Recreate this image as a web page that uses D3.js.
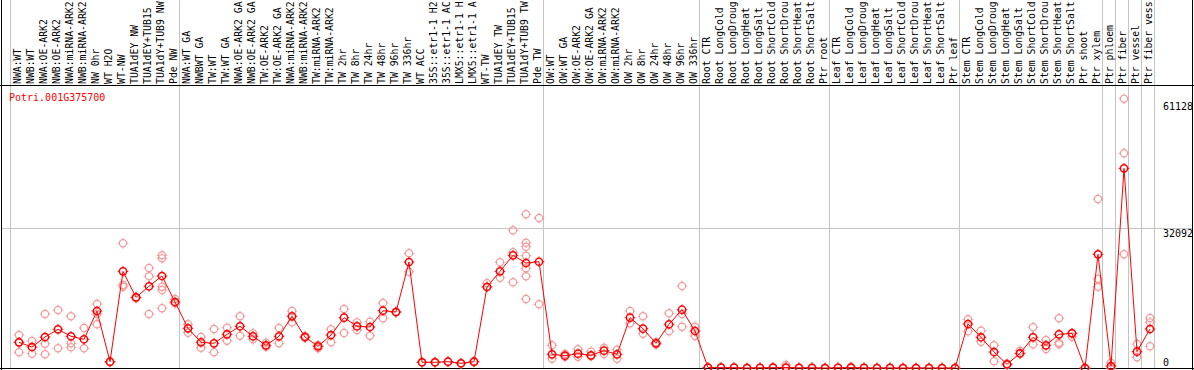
<!DOCTYPE html>
<html>
<head>
<meta charset="utf-8">
<script src="https://cdn.jsdelivr.net/npm/d3@7"></script>
<style>
  body { margin: 0; background: #fff; }
  svg { display: block; font-family: 'DejaVu Sans Mono', monospace; font-size: 10px; }
</style>
</head>
<body>
<svg width="1194" height="370"></svg>
<script>
var title = 'Potri.001G375700'

var categories = [
  'NWA:WT', 'NWB:WT', 'NWA:OE-ARK2', 'NWB:OE-ARK2', 'NWA:miRNA-ARK2', 'NWB:miRNA-ARK2', 'NW 0hr', 'WT H2O', 'WT-NW',
  'TUA1dEY NW', 'TUA1dEY+TUB15 NW', 'TUA1dY+TUB9 NW', 'Pde NW',
  'NWA:WT GA', 'NWBWT GA', 'TW:WT', 'TW:WT GA', 'NWA:OE-ARK2 GA', 'NWB:OE-ARK2 GA', 'TW:OE-ARK2', 'TW:OE-ARK2 GA',
  'NWA:miRNA-ARK2 GA', 'NWB:miRNA-ARK2 GA', 'TW:miRNA-ARK2', 'TW:miRNA-ARK2 GA', 'TW 2hr', 'TW 8hr', 'TW 24hr', 'TW 48hr',
  'TW 96hr', 'TW 336hr', 'WT ACC', '35S::etr1-1 H2O', '35S::etr1-1 ACC', 'LMX5::etr1-1 H2O', 'LMX5::etr1-1 ACC', 'WT-TW',
  'TUA1dEY TW', 'TUA1dEY+TUB15 TW', 'TUA1dY+TUB9 TW', 'Pde TW',
  'OW:WT', 'OW:WT GA', 'OW:OE-ARK2', 'OW:OE-ARK2 GA', 'OW:miRNA-ARK2', 'OW:miRNA-ARK2 GA', 'OW 2hr', 'OW 8hr', 'OW 24hr',
  'OW 48hr', 'OW 96hr', 'OW 336hr',
  'Root CTR', 'Root LongCold', 'Root LongDrought', 'Root LongHeat', 'Root LongSalt', 'Root ShortCold', 'Root ShortDrought',
  'Root ShortHeat', 'Root ShortSalt', 'Ptr root',
  'Leaf CTR', 'Leaf LongCold', 'Leaf LongDrought', 'Leaf LongHeat', 'Leaf LongSalt', 'Leaf ShortCold', 'Leaf ShortDrought',
  'Leaf ShortHeat', 'Leaf ShortSalt', 'Ptr leaf',
  'Stem CTR', 'Stem LongCold', 'Stem LongDrought', 'Stem LongHeat', 'Stem LongSalt', 'Stem ShortCold', 'Stem ShortDrought',
  'Stem ShortHeat', 'Stem ShortSalt', 'Ptr shoot', 'Ptr xylem',
  'Ptr phloem', 'Ptr fiber', 'Ptr vessel', 'Ptr fiber vessel'
]

// index of the first category of each block (last entry = end)
var groupStarts = [0, 13, 41, 53, 63, 73, 84, 85, 86, 87, 88]

var means = [
  5890, 4810, 7100, 8870, 7270, 6580, 13060, 1440, 22160, 16200, 18730, 21090, 15130,
  9100, 5890, 5660, 7720, 9560, 7270, 5200, 7270, 11850, 7100, 4970, 7560, 11530, 9560, 9400, 13130,
  12840, 24300, 1310, 1310, 1440, 1080, 1440, 18570, 22160, 25830, 24070, 24360,
  3140, 2820, 3280, 2910, 3970, 3140, 11530, 9010, 5660, 10020, 13360, 8480,
  100, 80, 70, 0, 60, 70, 120, 40, 50, 0,
  60, 90, 20, 0, 20, 0, 0, 0, 0, 0,
  10090, 7040, 3670, 850, 3370, 7040, 5200, 7720, 7950, 0, 26060,
  460, 45770, 3740, 8940
]

var reps = [
  [7560, 5890, 3600], [6190, 3280], [12380, 5570, 3140], [13290, 4520], [11850, 5660, 4740],
  [9170, 4520], [14670, 12380, 10020], [1440, 1300], [28580, 19020, 18630], [16200, 16000],
  [22920, 21020, 12380], [25830, 25140, 18630, 17880, 13680], [15820, 14830],
  [10020, 8090], [7100, 4650], [8940, 3600], [9240, 6260], [11850, 7400], [7950, 6580],
  [5800, 4880], [9170, 5660], [13060, 10470], [6950, 7330], [4520, 5270], [8870, 5890],
  [13520, 8020], [10470, 8710], [10610, 7400], [14900, 11390], [12900, 12720], [26290, 22070],
  [1380, 1260], [1260, 1380], [1490, 1400], [1030, 1100], [1600, 1300], [19410, 18630],
  [24230, 20700], [31560, 26520, 19640], [35230, 28720, 27800, 25740, 22850, 21020, 15820], [34380, 14600],
  [5200, 2130], [2590, 3210], [4290, 2590], [3740, 2680], [4650, 3210], [4190, 2130],
  [13060, 10250], [11850, 7860], [5890, 5390], [12540, 8410], [18790, 12380, 9470], [9470, 7330],
  [150, 50], [120, 40], [100, 40], [0, 0], [90, 30], [100, 40], [690, 0], [60, 20], [80, 20], [0, 0],
  [90, 30], [300, 0], [40, 0], [0, 0], [40, 0], [0, 0], [0, 0], [0, 0], [0, 0], [0, 0],
  [11160, 8410], [8550, 6030], [5200, 1540], [1030, 690], [3970, 3210], [9330, 5430],
  [6420, 4360], [11390, 5800, 5430], [7170, 8020], [0, 0], [38740, 20400, 18630],
  [1220, 0], [61700, 49210, 26060], [5500, 2450], [11460, 10470, 4970]
]

var yTicks = [0, 32092, 61128]
var yGrid = [32092]

var W = 1194, H = 370
var labelBottom = 85.5
var plotBottom = 368.5
var maxChars = 14  // the label strip only has room for 14 characters

var svg = d3.select('svg')

var x = d3.scaleBand()
  .domain(d3.range(categories.length))
  .range([11, 11 + 13 * categories.length])
  .padding(0)

var y = d3.scaleLinear().domain([0, 32092]).range([368, 228])

function px(i) { return x(i) + 8 }
function edge(d) { return (d < categories.length ? x(d) : x(d - 1) + x.bandwidth()) - 0.5 }

// vertical block separators
svg.append('g')
  .selectAll('line')
  .data(groupStarts)
  .enter().append('line')
  .attr('x1', edge)
  .attr('x2', edge)
  .attr('y1', 0)
  .attr('y2', plotBottom)
  .attr('stroke', '#c4c4c4')
  .attr('stroke-width', 1)

// horizontal grid
svg.append('g')
  .selectAll('line')
  .data(yGrid)
  .enter().append('line')
  .attr('x1', 1).attr('x2', W - 1)
  .attr('y1', function (d) { return Math.round(y(d)) + 0.5 })
  .attr('y2', function (d) { return Math.round(y(d)) + 0.5 })
  .attr('stroke', '#c4c4c4')

// frame
svg.append('line').attr('x1', 0).attr('x2', W).attr('y1', labelBottom).attr('y2', labelBottom).attr('stroke', '#000')
svg.append('line').attr('x1', 0).attr('x2', W).attr('y1', plotBottom).attr('y2', plotBottom).attr('stroke', '#000')
svg.append('line').attr('x1', 1.5).attr('x2', 1.5).attr('y1', 0).attr('y2', H).attr('stroke', '#000')
svg.append('line').attr('x1', W - 1.5).attr('x2', W - 1.5).attr('y1', 0).attr('y2', H).attr('stroke', '#000')

// category labels
svg.append('g')
  .selectAll('text')
  .data(categories)
  .enter().append('text')
  .attr('transform', function (d, i) { return 'translate(' + (x(i) + 10) + ',84) rotate(-90)' })
  .attr('fill', '#000')
  .style('font-size', '9.8px')
  .style('white-space', 'pre')
  .text(function (d) { return d.slice(0, maxChars) })

// y tick labels
svg.append('g')
  .selectAll('text')
  .data(yTicks)
  .enter().append('text')
  .attr('x', 1163)
  .attr('y', function (d) { return d === 0 ? 366 : y(d) + 9 })
  .attr('fill', '#000')
  .text(function (d) { return d })

svg.append('text')
  .attr('x', 9)
  .attr('y', 100.5)
  .attr('fill', '#f00')
  .text(title)

var marker = 'M0,-5.3V-4M0,4V5.3M-5.3,0H-4M4,0H5.3'

function drawMarker(g, color, width) {
  g.append('circle').attr('r', 3.6).attr('fill', 'none').attr('stroke', color).attr('stroke-width', width)
  g.append('path').attr('d', marker).attr('stroke', color).attr('stroke-width', 1)
}

// replicates
var repData = []
reps.forEach(function (r, i) {
  r.forEach(function (v) { repData.push({i: i, v: v}) })
})

svg.append('g')
  .selectAll('g')
  .data(repData)
  .enter().append('g')
  .attr('transform', function (d) { return 'translate(' + px(d.i) + ',' + y(d.v) + ')' })
  .each(function () { drawMarker(d3.select(this), '#f29a9a', 1.2) })

// mean line
var line = d3.line()
  .x(function (d, i) { return px(i) })
  .y(function (d) { return y(d) })

svg.append('path')
  .datum(means)
  .attr('d', line)
  .attr('fill', 'none')
  .attr('stroke', '#f00')
  .attr('stroke-width', 1)

svg.append('g')
  .selectAll('g')
  .data(means)
  .enter().append('g')
  .attr('transform', function (d, i) { return 'translate(' + px(i) + ',' + y(d) + ')' })
  .each(function () { drawMarker(d3.select(this), '#f00', 1.5) })
</script>
</body>
</html>
